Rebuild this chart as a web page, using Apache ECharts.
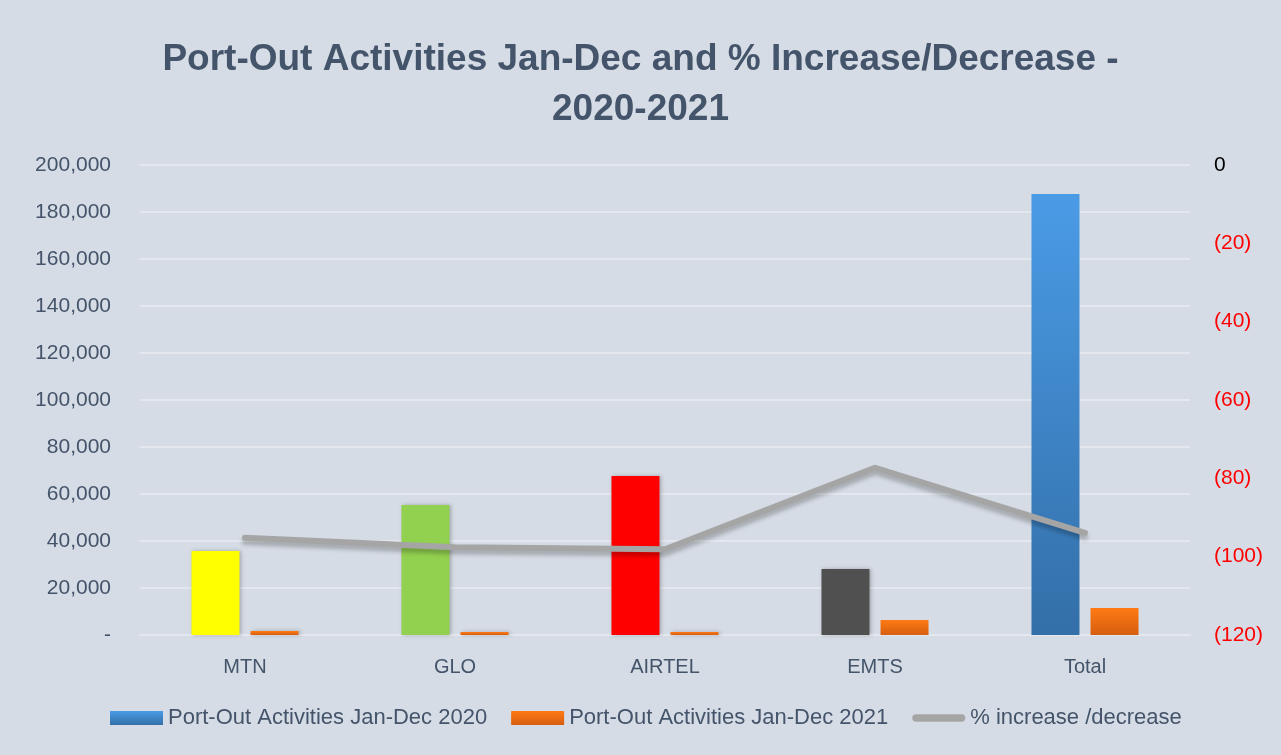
<!DOCTYPE html>
<html>
<head>
<meta charset="utf-8">
<script src="https://cdn.jsdelivr.net/npm/echarts@6/dist/echarts.min.js"></script>
<style>
    html, body { margin: 0; padding: 0; background: #D6DCE5; }
    #PortOut { width: 1281px; height: 755px; }
</style>
</head>
<body>
<div id="PortOut"></div>
<script>
    var categories = ['MTN', 'GLO', 'AIRTEL', 'EMTS', 'Total'];
    var portOut2020 = [35700, 55300, 67700, 28100, 187700];
    var portOut2021 = [1700, 1300, 1300, 6400, 11500];
    var pctChange = [-95.2, -97.6, -98.1, -77.3, -93.9];
    var barColors2020 = ['#FFFF00', '#92D050', '#FF0000', '#505050', null];

    var textColor = '#44546A';
    var blueFill = new echarts.graphic.LinearGradient(0, 0, 0, 1, [
        { offset: 0, color: '#4A9BE6' }, { offset: 1, color: '#336FA8' }
    ]);
    var orangeFill = new echarts.graphic.LinearGradient(0, 0, 0, 1, [
        { offset: 0, color: '#FF7A14' }, { offset: 1, color: '#D65E0F' }
    ]);

    var data2020 = portOut2020.map(function (v, i) {
        var item = { value: v };
        if (barColors2020[i]) item.itemStyle = { color: barColors2020[i] };
        return item;
    });

    var myCharts = echarts.init(document.getElementById('PortOut'));
    myCharts.setOption({
        backgroundColor: '#D6DCE5',
        title: {
            text: 'Port-Out Activities Jan-Dec and % Increase/Decrease -\n2020-2021',
            left: 'center',
            top: 30,
            textStyle: {
                fontFamily: 'Liberation Sans',
                fontSize: 37,
                fontWeight: 'bold',
                color: textColor,
                lineHeight: 50
            }
        },
        grid: { left: 140, right: 91, top: 165, bottom: 120 },
        legend: {
            bottom: 21,
            left: 105,
            itemWidth: 53,
            itemHeight: 14,
            itemGap: 24,
            textStyle: { fontFamily: 'Liberation Sans', fontSize: 22, color: textColor },
            data: [
                { name: 'Port-Out Activities Jan-Dec 2020', icon: 'rect' },
                { name: 'Port-Out Activities Jan-Dec 2021', icon: 'rect' },
                { name: '% increase /decrease', icon: 'path://M3,0 h44 a3,3 0 0 1 0,7 h-44 a3,3 0 0 1 0,-7 z',
                  itemStyle: { color: '#A5A5A5' } }
            ]
        },
        xAxis: {
            type: 'category',
            data: categories,
            axisLine: { lineStyle: { color: '#E4E8EE', width: 2 } },
            axisTick: { show: false },
            axisLabel: { fontFamily: 'Liberation Sans', fontSize: 20, color: textColor, margin: 22 }
        },
        yAxis: [
            {
                type: 'value',
                min: 0,
                max: 200000,
                interval: 20000,
                splitLine: { lineStyle: { color: '#E4E8EE', width: 2 } },
                axisLabel: {
                    fontFamily: 'Liberation Sans',
                    fontSize: 21,
                    color: textColor,
                    margin: 29,
                    formatter: function (val) {
                        return val === 0 ? '-' : val.toLocaleString('en-US');
                    }
                }
            },
            {
                type: 'value',
                min: -120,
                max: 0,
                interval: 20,
                splitLine: { show: false },
                axisLabel: {
                    fontFamily: 'Liberation Sans',
                    fontSize: 21,
                    margin: 24,
                    formatter: function (val) {
                        return val < 0 ? '{neg|(' + (-val) + ')}' : '{zero|' + val + '}';
                    },
                    rich: {
                        neg: { color: '#FF0000', fontSize: 21, fontFamily: 'Liberation Sans' },
                        zero: { color: '#000000', fontSize: 21, fontFamily: 'Liberation Sans' }
                    }
                }
            }
        ],
        series: [
            {
                name: 'Port-Out Activities Jan-Dec 2020',
                type: 'bar',
                barWidth: 48,
                barGap: '23%',
                itemStyle: {
                    color: blueFill,
                    shadowColor: 'rgba(0,0,0,0.25)',
                    shadowBlur: 4,
                    shadowOffsetX: 2
                },
                data: data2020
            },
            {
                name: 'Port-Out Activities Jan-Dec 2021',
                type: 'bar',
                barWidth: 48,
                itemStyle: {
                    color: orangeFill,
                    shadowColor: 'rgba(0,0,0,0.25)',
                    shadowBlur: 4,
                    shadowOffsetX: 2
                },
                data: portOut2021
            },
            {
                name: '% increase /decrease',
                type: 'line',
                yAxisIndex: 1,
                symbol: 'none',
                z: 5,
                lineStyle: {
                    color: '#A5A5A5',
                    width: 6,
                    cap: 'round',
                    join: 'round',
                    shadowColor: 'rgba(0,0,0,0.25)',
                    shadowBlur: 4,
                    shadowOffsetY: 4
                },
                itemStyle: { color: '#A5A5A5' },
                data: pctChange
            }
        ]
    });
    window.addEventListener('resize', function () {
        myCharts.resize();
    });
</script>
</body>
</html>
